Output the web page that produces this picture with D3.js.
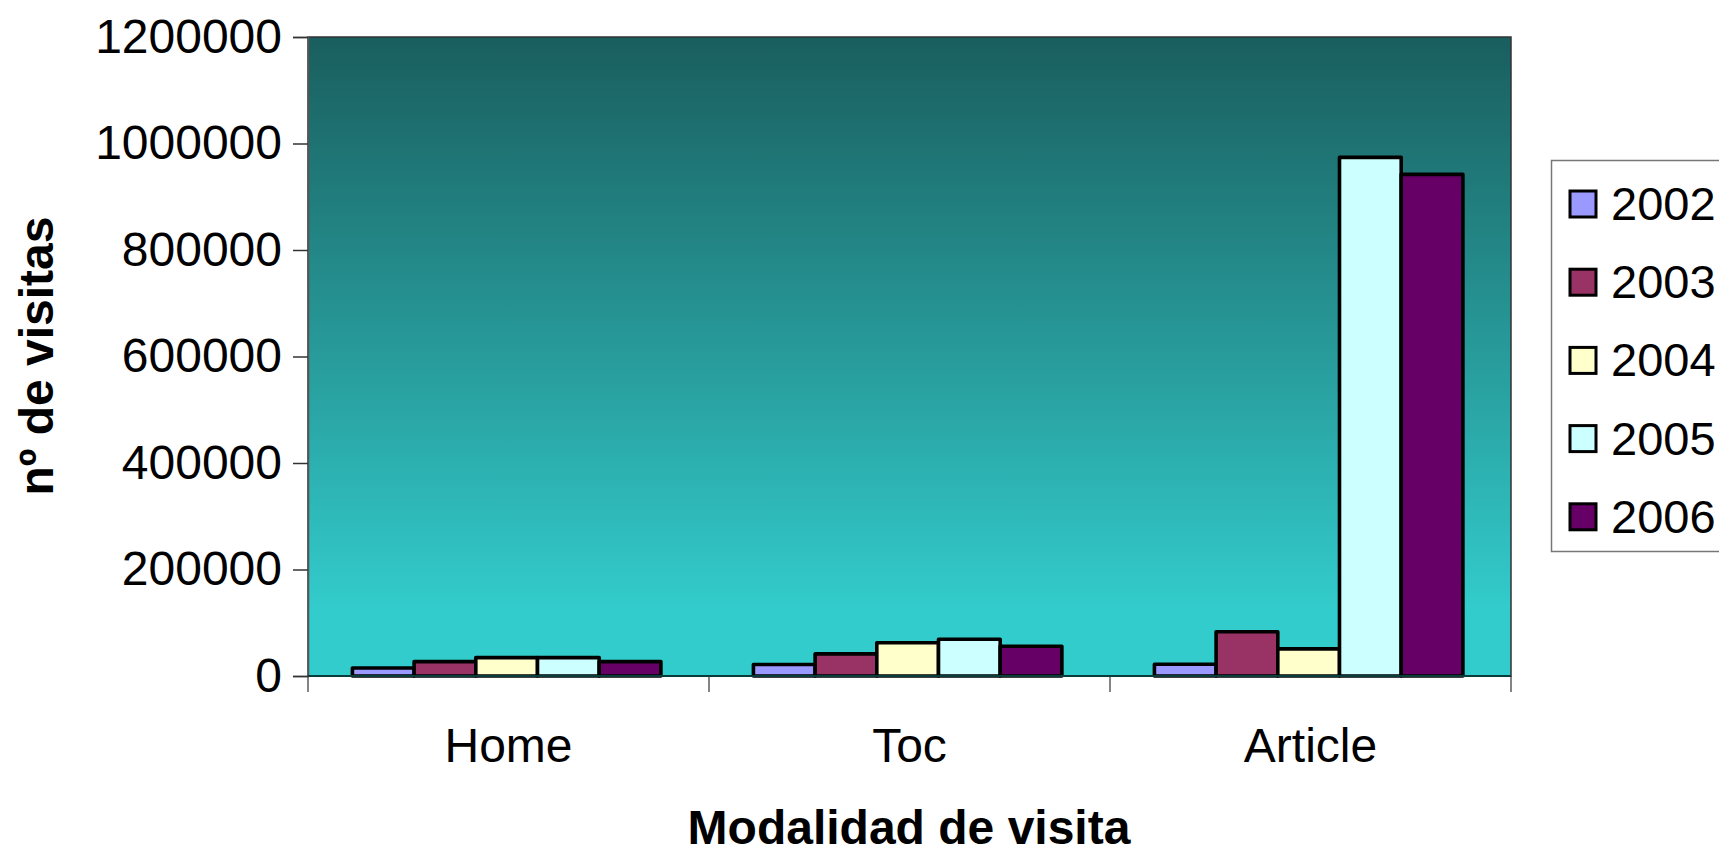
<!DOCTYPE html>
<html>
<head>
<meta charset="utf-8">
<script src="https://cdn.jsdelivr.net/npm/d3@7"></script>
<style>
  html, body { margin: 0; padding: 0; background: #fff; }
  svg { display: block; font-family: "Liberation Sans", Arial, sans-serif; }
</style>
</head>
<body>
<svg id="chart" width="1719" height="854"></svg>
<script>
const categories = ["Home", "Toc", "Article"];
const years = ["2002", "2003", "2004", "2005", "2006"];
const v2002 = [15000, 21500, 22000];
const v2003 = [27000, 41500, 83000];
const v2004 = [34500, 62500, 51000];
const v2005 = [34500, 69000, 974000];
const v2006 = [27000, 56000, 942000];
const seriesValues = [v2002, v2003, v2004, v2005, v2006];
const colors = ["#9999ff", "#993366", "#ffffcc", "#ccffff", "#660066"];
const yTicks = [0, 200000, 400000, 600000, 800000, 1000000, 1200000];

const svg = d3.select("#chart");
const L = 308, R = 1511, T = 37, B = 676;

const defs = svg.append("defs");
const grad = defs.append("linearGradient").attr("id", "bg")
  .attr("x1", 0).attr("y1", 0).attr("x2", 0).attr("y2", 1);
grad.append("stop").attr("offset", 0).attr("stop-color", "#1a5e5e");
grad.append("stop").attr("offset", 0.9).attr("stop-color", "#33cccc");
grad.append("stop").attr("offset", 1).attr("stop-color", "#33cccc");

const x0 = d3.scaleBand().domain(categories).range([L, R]).paddingInner(0).paddingOuter(0);
const x1 = d3.scaleBand().domain(years)
  .range([x0.bandwidth() * 0.72 / 6.5, x0.bandwidth() * 5.72 / 6.5]);
const y = d3.scaleLinear().domain([0, 1200000]).range([B, T]);

// plot area
svg.append("rect").attr("x", L).attr("y", T).attr("width", R - L).attr("height", B - T)
  .attr("fill", "url(#bg)").attr("stroke", "#333").attr("stroke-width", 1.5);

// bars
const data = [];
categories.forEach((c, ci) => years.forEach((yr, si) => {
  data.push({ c, yr, v: seriesValues[si][ci], color: colors[si] });
}));
svg.append("g").selectAll("rect").data(data).join("rect")
  .attr("x", d => x0(d.c) + x1(d.yr))
  .attr("y", d => y(d.v))
  .attr("width", x1.bandwidth())
  .attr("height", d => B - y(d.v))
  .attr("fill", d => d.color)
  .attr("stroke", "#000")
  .attr("stroke-width", 3.6)
  .attr("stroke-linejoin", "round");

// y axis
const yAxis = svg.append("g").attr("transform", `translate(${L},0)`)
  .call(d3.axisLeft(y).tickValues(yTicks).tickSize(15).tickPadding(11).tickFormat(d3.format("d")));
yAxis.select(".domain").attr("stroke", "#555").attr("stroke-width", 1.5);
yAxis.selectAll(".tick line").attr("stroke", "#333").attr("stroke-width", 1.5);
yAxis.selectAll("text").attr("font-size", 48).attr("fill", "#000")
  .attr("font-family", "'Liberation Sans', Arial, sans-serif");

// x axis with ticks at band boundaries
const xAxisG = svg.append("g").attr("transform", `translate(0,${B})`);
xAxisG.append("line").attr("x1", L).attr("x2", R).attr("y1", 0).attr("y2", 0)
  .attr("stroke", "#0a3c3c").attr("stroke-width", 2);
const boundaries = categories.map(c => x0(c)).concat([R]);
xAxisG.selectAll("line.tk").data(boundaries).join("line").attr("class", "tk")
  .attr("x1", d => d).attr("x2", d => d).attr("y1", 0).attr("y2", 16)
  .attr("stroke", "#333").attr("stroke-width", 1.2);
xAxisG.selectAll("text").data(categories).join("text")
  .attr("x", d => x0(d) + x0.bandwidth() / 2)
  .attr("y", 86)
  .attr("text-anchor", "middle")
  .attr("font-size", 48)
  .text(d => d);

// axis titles
svg.append("text").attr("x", 909).attr("y", 844).attr("text-anchor", "middle")
  .attr("font-size", 48).attr("font-weight", "bold").text("Modalidad de visita");
svg.append("text").attr("transform", "translate(53,356) rotate(-90)")
  .attr("text-anchor", "middle").attr("font-size", 48).attr("font-weight", "bold")
  .text("nº de visitas");

// legend
const lg = svg.append("g");
lg.append("rect").attr("x", 1551.5).attr("y", 160.5).attr("width", 220).attr("height", 391)
  .attr("fill", "#fff").attr("stroke", "#777").attr("stroke-width", 1.5);
const items = lg.selectAll("g.item").data(years).join("g").attr("class", "item")
  .attr("transform", (d, i) => `translate(0,${204 + i * 78.2})`);
items.append("rect").attr("x", 1570).attr("y", -13).attr("width", 26).attr("height", 26)
  .attr("fill", (d, i) => colors[i]).attr("stroke", "#000").attr("stroke-width", 3);
items.append("text").attr("x", 1611).attr("y", 16).attr("font-size", 47).text(d => d);
</script>
</body>
</html>
